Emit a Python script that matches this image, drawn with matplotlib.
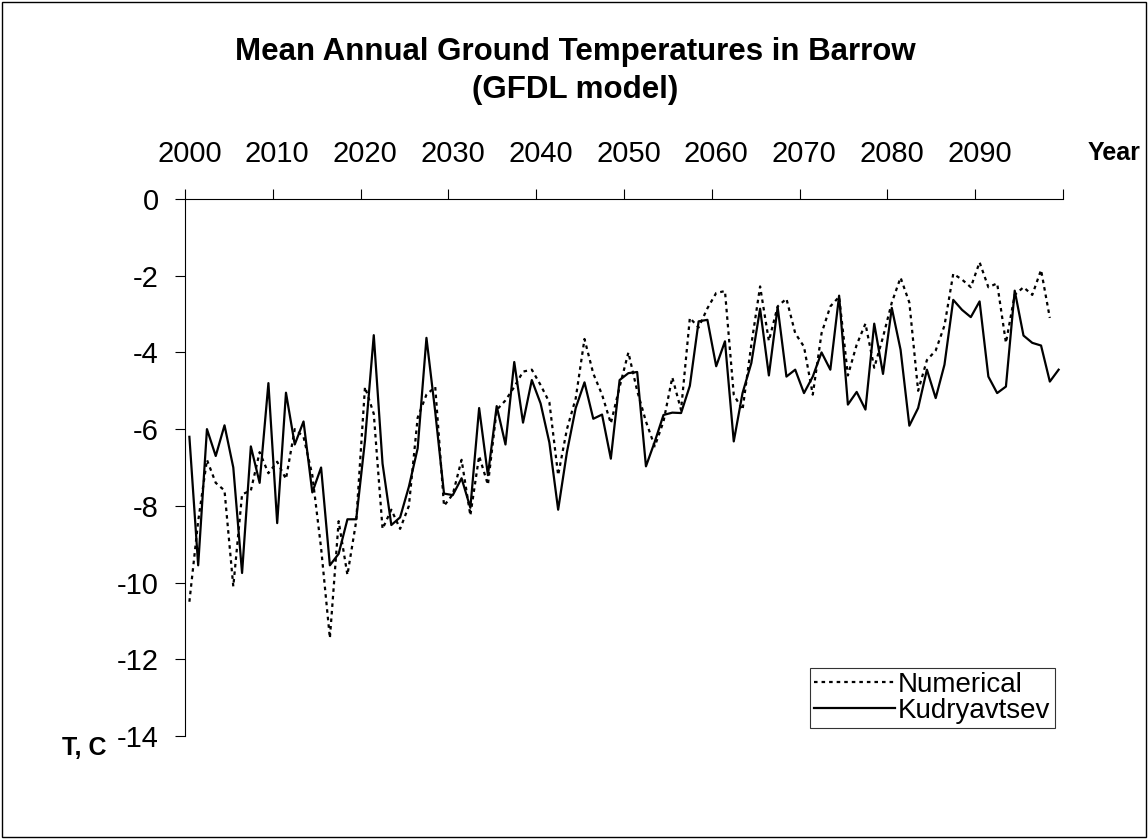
import matplotlib
matplotlib.use("Agg")
import matplotlib.pyplot as plt
from matplotlib.patches import Rectangle

plt.rcParams['font.family'] = ['Liberation Sans', 'DejaVu Sans']

years = list(range(2000, 2100))

kudryavtsev = [
    -6.2, -9.55, -6.0, -6.7, -5.9, -7.0, -9.75, -6.45, -7.4, -4.8,
    -8.45, -5.05, -6.4, -5.8, -7.65, -7.0, -9.55, -9.25, -8.35, -8.35,
    -6.3, -3.55, -6.9, -8.5, -8.3, -7.5, -6.5, -3.62, -5.55, -7.68,
    -7.72, -7.28, -8.05, -5.45, -7.2, -5.4, -6.4, -4.25, -5.83, -4.72,
    -5.33, -6.35, -8.1, -6.6, -5.45, -4.78, -5.73, -5.62, -6.77, -4.72,
    -4.54, -4.51, -6.97, -6.33, -5.63, -5.57, -5.58, -4.87, -3.19, -3.15,
    -4.36, -3.71, -6.32, -5.06, -4.28, -2.86, -4.6, -2.82, -4.63, -4.45,
    -5.06, -4.63, -4.0, -4.45, -2.52, -5.36, -5.03, -5.49, -3.25, -4.56,
    -2.84, -3.93, -5.91, -5.45, -4.45, -5.19, -4.32, -2.63, -2.89, -3.08,
    -2.67, -4.63, -5.06, -4.89, -2.39, -3.56, -3.75, -3.82, -4.76, -4.45,
]

numerical = [
    -10.5, -8.4, -6.8, -7.4, -7.6, -10.1, -7.7, -7.6, -6.6, -7.15,
    -6.85, -7.3, -6.0, -6.2, -7.2, -9.1, -11.45, -8.4, -9.8, -8.4,
    -4.9, -5.6, -8.6, -8.1, -8.6, -8.0, -5.7, -5.1, -4.9, -8.0,
    -7.7, -6.8, -8.25, -6.7, -7.45, -5.5, -5.25, -4.9, -4.5, -4.45,
    -4.85, -5.3, -7.2, -6.0, -5.2, -3.65, -4.55, -5.1, -5.85, -4.9,
    -4.0, -5.0, -5.8, -6.45, -5.8, -4.65, -5.5, -3.1, -3.35, -2.85,
    -2.45, -2.4, -5.1, -5.5, -3.8, -2.28, -3.7, -2.8, -2.6, -3.5,
    -3.85, -5.1, -3.5, -2.8, -2.55, -4.6, -3.8, -3.25, -4.4, -3.6,
    -2.7, -2.05, -2.7, -5.0, -4.2, -3.95, -3.3, -1.95, -2.1, -2.3,
    -1.65, -2.3, -2.2, -3.75, -2.5, -2.3, -2.5, -1.85, -3.1,
]

label_years = list(range(2000, 2100, 10))
y_ticks = list(range(0, -15, -2))

W, H = 1148, 839
fig = plt.figure(figsize=(W / 100, H / 100), dpi=100)
ax = fig.add_axes([185 / W, 1 - 736 / H, 878 / W, 537 / H])

ax.plot(years[:len(numerical)], numerical, color='black', lw=1.6,
        linestyle=(0, (1.6, 1.8)), label='Numerical')
ax.plot(years, kudryavtsev, color='black', lw=1.6, label='Kudryavtsev')

ax.set_xlim(1999.5, 2099.5)
ax.set_ylim(-14, 0)

# category axis: tick marks between categories, labels on categories
ax.xaxis.tick_top()
ax.set_xticks([y - 0.5 for y in range(2000, 2101, 10)])
ax.set_xticklabels([])
ax.set_xticks(label_years, minor=True)
ax.set_xticklabels([str(y) for y in label_years], minor=True)
ax.tick_params(axis='x', which='major', direction='out', length=7, width=0.8)
ax.tick_params(axis='x', which='minor', length=0, pad=22, labelsize=21)

ax.set_yticks(y_ticks)
ax.set_yticklabels([str(v) for v in y_ticks])
ax.tick_params(axis='y', direction='out', length=7, width=0.8, pad=12, labelsize=21)

ax.spines['right'].set_visible(False)
ax.spines['bottom'].set_visible(False)
ax.spines['top'].set_linewidth(0.8)
ax.spines['left'].set_linewidth(0.8)

fig.text(575 / W, 1 - 52 / H, 'Mean Annual Ground Temperatures in Barrow',
         ha='center', va='center', fontsize=22.5, fontweight='bold')
fig.text(575 / W, 1 - 90 / H, '(GFDL model)',
         ha='center', va='center', fontsize=22.5, fontweight='bold')
fig.text(1114 / W, 1 - 153 / H, 'Year', ha='center', va='center',
         fontsize=18, fontweight='bold')
fig.text(84 / W, 1 - 748 / H, 'T, C', ha='center', va='center',
         fontsize=18, fontweight='bold')

leg = ax.legend(loc='upper left', bbox_to_anchor=(810 / W, 1 - 668 / H),
                bbox_transform=fig.transFigure, fontsize=20, frameon=True,
                fancybox=False, edgecolor='black', handlelength=2.9,
                handletextpad=0.12, borderpad=0.15, labelspacing=0.0,
                borderaxespad=0)
leg.get_frame().set_linewidth(0.8)

fig.patches.append(Rectangle((0.002, 0.002), 0.996, 0.996, transform=fig.transFigure,
                             fill=False, edgecolor='black', lw=1))

fig.savefig('out.png', dpi=100)
